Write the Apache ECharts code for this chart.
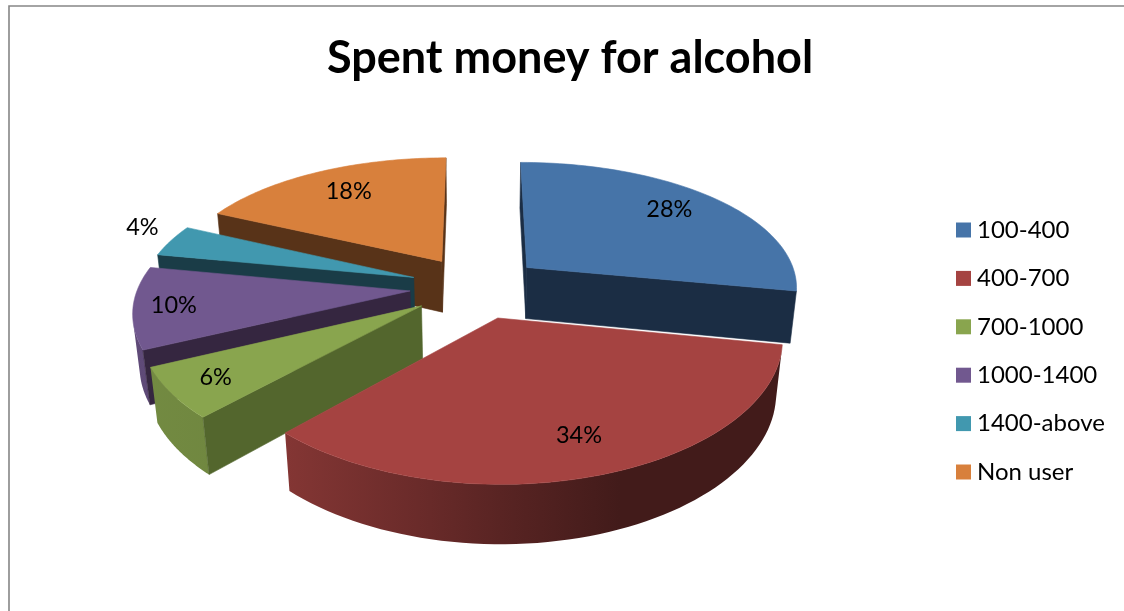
<!DOCTYPE html>
<html>
<head>
<meta charset="utf-8">
<style>html,body{margin:0;padding:0;background:#fff}#chart{width:1124px;height:611px}</style>
<script src="https://cdn.jsdelivr.net/npm/echarts@6/dist/echarts.min.js"></script>
</head>
<body>
<div id="chart"></div>
<script>
// Share of respondents per spending band, clockwise from twelve o'clock.
const categories = ['100-400', '400-700', '700-1000', '1000-1400', '1400-above', 'Non user'];
const shares = [28, 34, 6, 10, 4, 18];
const topColors = ['#4674A8', '#A54341', '#89A54E', '#71588F', '#4198AF', '#D8803C'];
const cutColors = ['#1B2D44', '#431A19', '#53662D', '#352640', '#1A3C47', '#583318'];
// Painting order, far slices first.
const paintRank = [1, 5, 4, 3, 2, 0];
// Percentage label placement: distance from the pie axis in radii, and a turn in degrees.
const labelReach = [1.03, 1.03, 1.08, 1.1, 1.41, 1.0];
const labelTurn = [-1.5, -0.4, 0, 0, 3.1, 0.7];

// Perspective view of the tilted disc.
const view = { cx: 476.5, cy: 287, ax: 272, ay: 128, tiltX: 0.14, tiltY: 0.1625, depth: 53, taper: 0.02, explode: 0.245 };
// Brightness of the curved rim across the width of the chart.
const rimShade = [[130, 0.84], [284, 0.8], [430, 0.63], [500, 0.54], [620, 0.4], [800, 0.4]];

const total = shares.reduce((a, b) => a + b, 0);

function project(x, y, z) {
  const wx = 1 + view.tiltX * y + view.taper * z;
  const wy = 1 + view.tiltY * y + view.taper * z;
  return [view.cx + view.ax * x / wx, view.cy + (-view.ay * y + view.depth * z) / wy];
}

function darken(hex, f) {
  const n = parseInt(hex.slice(1), 16);
  const c = [(n >> 16) & 255, (n >> 8) & 255, n & 255].map(v => Math.round(v * f));
  return 'rgb(' + c.join(',') + ')';
}

function sliceRange(index) {
  const before = shares.slice(0, index).reduce((a, b) => a + b, 0);
  return [before / total * Math.PI * 2, (before + shares[index]) / total * Math.PI * 2];
}

// A wall is visible when its outline runs the same way round as the slice seen from above.
function facesViewer(points) {
  let sum = 0;
  points.forEach((p, i) => {
    const q = points[(i + 1) % points.length];
    sum += p[0] * q[1] - q[0] * p[1];
  });
  return sum < 0;
}

function renderSlice(index, api) {
  const value = api.value(0);
  const [a0, a1] = sliceRange(index);
  const mid = (a0 + a1) / 2;
  const ox = Math.sin(mid) * view.explode;
  const oy = Math.cos(mid) * view.explode;
  const rim = [];
  const steps = 64;
  for (let i = 0; i <= steps; i++) {
    const a = a0 + (a1 - a0) * i / steps;
    rim.push([ox + Math.sin(a), oy + Math.cos(a)]);
  }
  const top = rim.map(p => project(p[0], p[1], 0));
  const low = rim.map(p => project(p[0], p[1], 1));
  const apexTop = project(ox, oy, 0);
  const apexLow = project(ox, oy, 1);
  const cut = cutColors[index];
  const face = topColors[index];
  const poly = (points, fill) => ({
    type: 'polygon',
    shape: { points },
    style: { fill, stroke: fill, lineWidth: 0.6 },
    silent: true
  });
  const children = [];

  // The curved rim: one polygon for each unbroken run of visible segments.
  const x0 = rimShade[0][0];
  const x1 = rimShade[rimShade.length - 1][0];
  const rimFill = {
    type: 'linear', global: true, x: x0, y: 0, x2: x1, y2: 0,
    colorStops: rimShade.map(s => ({ offset: (s[0] - x0) / (x1 - x0), color: darken(face, s[1]) }))
  };
  let runStart = -1;
  for (let i = 0; i <= steps; i++) {
    const open = i < steps && facesViewer([top[i], top[i + 1], low[i + 1], low[i]]);
    if (open && runStart < 0) runStart = i;
    if (!open && runStart >= 0) {
      const upper = top.slice(runStart, i + 1);
      const lower = low.slice(runStart, i + 1).reverse();
      children.push({
        type: 'polygon', shape: { points: upper.concat(lower) },
        style: { fill: rimFill }, silent: true
      });
      runStart = -1;
    }
  }

  const startWall = [apexTop, top[0], low[0], apexLow];
  const endWall = [top[steps], apexTop, apexLow, low[steps]];
  if (facesViewer(startWall)) children.push(poly(startWall, cut));
  if (facesViewer(endWall)) children.push(poly(endWall, cut));

  children.push(poly([apexTop].concat(top), face));

  const labelAngle = mid + labelTurn[index] * Math.PI / 180;
  const labelAt = project(Math.sin(labelAngle) * labelReach[index], Math.cos(labelAngle) * labelReach[index], 0);
  children.push({
    type: 'text',
    x: labelAt[0], y: labelAt[1],
    style: {
      text: value + '%', fill: '#000',
      font: '23.5px Lato', align: 'center', verticalAlign: 'middle'
    },
    silent: true
  });
  return { type: 'group', children };
}

const chart = echarts.init(document.getElementById('chart'), null, { renderer: 'canvas' });
chart.setOption({
  animation: false,
  backgroundColor: '#fff',
  title: {
    text: 'Spent money for alcohol',
    left: 565, top: 31, textAlign: 'center',
    textStyle: { fontFamily: 'Lato', fontSize: 45, fontWeight: 'bold', color: '#000' }
  },
  legend: {
    orient: 'vertical', left: 951, top: 213,
    itemWidth: 15, itemHeight: 15, itemGap: 24.4,
    icon: 'rect',
    data: categories,
    textStyle: { fontFamily: 'Lato', fontSize: 24, color: '#000', padding: [0, 0, 0, 1] },
    selectedMode: false
  },
  graphic: [
    { type: 'polyline', shape: { points: [[9, 611], [9, 6], [1124, 6]] }, style: { fill: 'none', stroke: '#868686', lineWidth: 1.6 }, silent: true }
  ],
  series: categories.map((name, index) => ({
    type: 'custom',
    name,
    coordinateSystem: 'none',
    z: 2 + paintRank[index],
    itemStyle: { color: topColors[index] },
    silent: true,
    data: [[shares[index]]],
    renderItem: (params, api) => renderSlice(index, api)
  }))
});
</script>
</body>
</html>
